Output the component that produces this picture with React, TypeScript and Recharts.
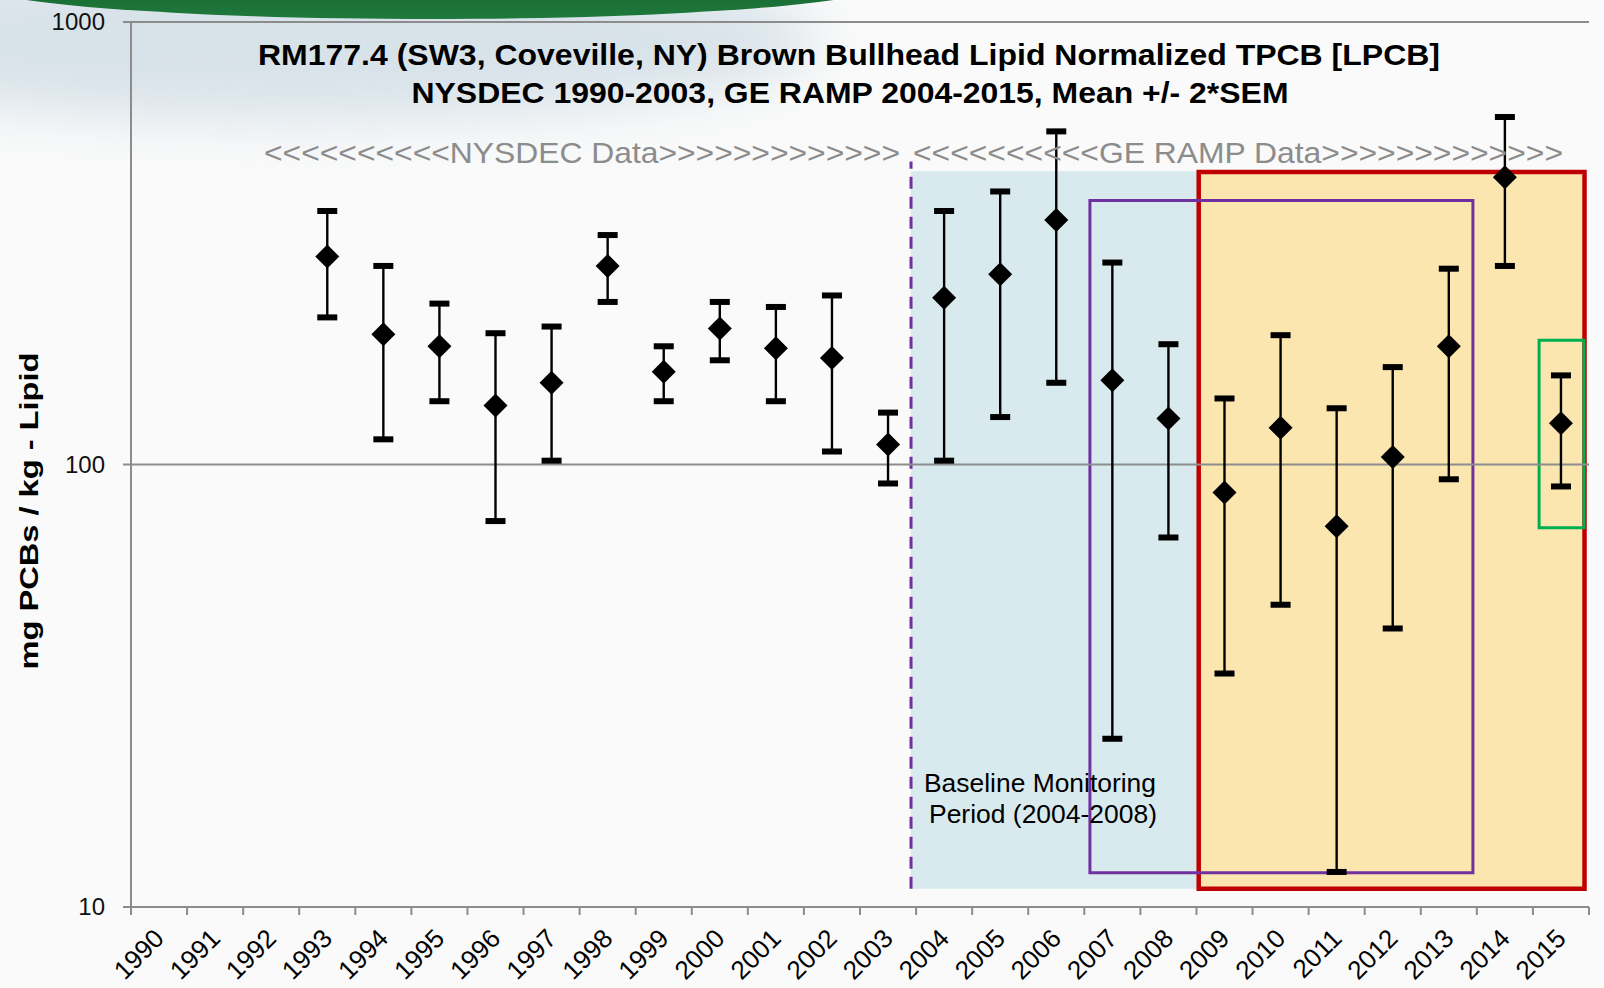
import React from 'react';
import {
  ScatterChart,
  Scatter,
  XAxis,
  YAxis,
  ErrorBar,
  ReferenceArea,
  ReferenceLine,
} from 'recharts';

// sampling years (x categories)
const YEARS = [
  '1990', '1991', '1992', '1993', '1994', '1995', '1996', '1997', '1998', '1999', '2000', '2001', '2002',
  '2003', '2004', '2005', '2006', '2007', '2008', '2009', '2010', '2011', '2012', '2013', '2014', '2015',
];

// mean LPCB (mg/kg lipid), and mean -/+ 2*SEM
const MEAN = [
  null, null, null, 295, 197, 185, 136, 153, 281, 162, 203, 183, 174,
  111, 238, 269, 357, 155, 127, 86.4, 121, 72.5, 104, 185, 446, 124,
];
const LOWER = [
  null, null, null, 215, 114, 139, 74.5, 102, 233, 139, 172, 139, 107,
  90.6, 102, 128, 153, 24, 68.4, 33.7, 48.2, 12, 42.6, 92.6, 281, 89.2,
];
const UPPER = [
  null, null, null, 374, 281, 231, 198, 205, 330, 185, 233, 227, 241,
  131, 374, 414, 566, 286, 187, 141, 196, 134, 166, 277, 610, 159,
];

const Y_TICKS = [10, 100, 1000];

// annotation boxes, in axis units (x = category index, y = mg/kg)
const BASELINE_BAND = { x1: 13.91, x2: 19.04, y1: 11, y2: 460 };
const RECENT_BOX = { x1: 19.04, x2: 25.92, y1: 11, y2: 458 };
const PURPLE_BOX = { x1: 17.1, x2: 23.93, y1: 11.95, y2: 395 };
const GREEN_BOX = { x1: 25.11, x2: 25.91, y1: 72, y2: 191 };
const DIVIDER = { x: 13.91, y1: 11, y2: 484 };

const W = 1604;
const H = 988;
const FONT = '"Liberation Sans", Arial, sans-serif';
const AXIS_GRAY = '#8c8c8c';

const gridTicks = YEARS.map((_, i) => i).concat(YEARS.length);
const labelTicks = YEARS.map((_, i) => i + 0.5);

const points = YEARS.map((_, i) =>
  MEAN[i] == null
    ? null
    : { x: i + 0.5, y: MEAN[i] as number, err: [(MEAN[i] as number) - (LOWER[i] as number), (UPPER[i] as number) - (MEAN[i] as number)] }
).filter(Boolean) as { x: number; y: number; err: number[] }[];

const lowCaps = YEARS.map((_, i) => (LOWER[i] == null ? null : { x: i + 0.5, y: LOWER[i] as number })).filter(Boolean);
const highCaps = YEARS.map((_, i) => (UPPER[i] == null ? null : { x: i + 0.5, y: UPPER[i] as number })).filter(Boolean);

const Diamond = (props: any) => {
  const { cx, cy } = props;
  if (cx == null || cy == null) return null;
  const r = 12;
  return <polygon points={`${cx},${cy - r} ${cx + r},${cy} ${cx},${cy + r} ${cx - r},${cy}`} fill="#000" />;
};

const Cap = (props: any) => {
  const { cx, cy } = props;
  if (cx == null || cy == null) return null;
  return <rect x={cx - 10} y={cy - 3} width={20} height={6} fill="#000" />;
};

const YearTick = (props: any) => {
  const { x, y, payload } = props;
  const label = YEARS[Math.floor(payload.value)];
  const ax = x + 6.5;
  const ay = y + 32;
  return (
    <text x={ax} y={ay} transform={`rotate(-45 ${ax} ${ay})`} textAnchor="end" fontSize={26} fontFamily={FONT} fill="#000">
      {label}
    </text>
  );
};

const ValueTick = (props: any) => {
  const { x, y, payload } = props;
  return (
    <text x={x} y={y} dy={8} textAnchor="end" fontSize={24} fontFamily={FONT} fill="#111">
      {payload.value}
    </text>
  );
};

export default function App() {
  return (
    <div style={{ position: 'absolute', left: 0, top: 0, width: W, height: H, background: '#fafafa', overflow: 'hidden' }}>
      <svg width={W} height={H} style={{ position: 'absolute', left: 0, top: 0 }}>
        <defs>
          <filter id="haze" x="-50%" y="-50%" width="200%" height="200%">
            <feGaussianBlur stdDeviation="28" />
          </filter>
          <linearGradient id="band" x1="0" y1="0" x2="0" y2="1">
            <stop offset="0" stopColor="#0e4f22" />
            <stop offset="1" stopColor="#1f7a3c" />
          </linearGradient>
        </defs>
        <ellipse cx={300} cy={40} rx={520} ry={80} fill="#c9d8e2" opacity={0.7} filter="url(#haze)" />
        <ellipse cx={430} cy={-18} rx={462} ry={37} fill="url(#band)" />
      </svg>

      <div style={{ position: 'absolute', left: 0, top: 0 }}>
        <ScatterChart width={W} height={H} margin={{ top: 22, right: 15, bottom: 0, left: 0 }}>
          <XAxis
            xAxisId="grid"
            type="number"
            dataKey="x"
            domain={[0, 26]}
            allowDataOverflow
            ticks={gridTicks}
            interval={0}
            height={1}
            tick={() => <g />}
            tickSize={8}
            tickLine={{ stroke: AXIS_GRAY, strokeWidth: 2 }}
            axisLine={{ stroke: AXIS_GRAY, strokeWidth: 2 }}
          />
          <XAxis
            xAxisId="lab"
            type="number"
            dataKey="x"
            domain={[0, 26]}
            allowDataOverflow
            ticks={labelTicks}
            interval={0}
            height={80}
            tickSize={0}
            tickMargin={0}
            tickLine={false}
            axisLine={false}
            tick={<YearTick />}
          />
          <YAxis
            type="number"
            dataKey="y"
            scale="log"
            domain={[10, 1000]}
            allowDataOverflow
            ticks={Y_TICKS}
            interval={0}
            width={131}
            tickSize={8}
            tickMargin={18}
            tick={<ValueTick />}
            tickLine={{ stroke: AXIS_GRAY, strokeWidth: 2 }}
            axisLine={{ stroke: AXIS_GRAY, strokeWidth: 2 }}
          />

          <ReferenceArea xAxisId="grid" {...BASELINE_BAND} fill="#d8eaee" fillOpacity={1} stroke="none" />
          <ReferenceArea xAxisId="grid" {...RECENT_BOX} fill="#fbe6b0" fillOpacity={1} stroke="#c00000" strokeWidth={4.5} />
          <ReferenceArea xAxisId="grid" {...PURPLE_BOX} fill="none" fillOpacity={0} stroke="#7030a0" strokeWidth={3} />
          <ReferenceArea xAxisId="grid" {...GREEN_BOX} fill="none" fillOpacity={0} stroke="#00b050" strokeWidth={3} />
          <ReferenceLine
            xAxisId="grid"
            segment={[{ x: DIVIDER.x, y: DIVIDER.y1 }, { x: DIVIDER.x, y: DIVIDER.y2 }]}
            stroke="#7030a0"
            strokeWidth={3}
            strokeDasharray="12 8"
          />
          <ReferenceLine xAxisId="grid" y={100} stroke={AXIS_GRAY} strokeWidth={2} />
          <ReferenceLine xAxisId="grid" y={1000} stroke={AXIS_GRAY} strokeWidth={2} />

          <Scatter xAxisId="lab" data={points} shape={<Diamond />} isAnimationActive={false}>
            <ErrorBar dataKey="err" direction="y" width={0} stroke="#000" strokeWidth={2.4} isAnimationActive={false} />
          </Scatter>
          <Scatter xAxisId="grid" data={lowCaps} shape={<Cap />} isAnimationActive={false} />
          <Scatter xAxisId="grid" data={highCaps} shape={<Cap />} isAnimationActive={false} />
        </ScatterChart>
      </div>

      <svg width={W} height={H} style={{ position: 'absolute', left: 0, top: 0, pointerEvents: 'none' }} fontFamily={FONT}>
        <text x={849} y={65} textAnchor="middle" fontSize={30} fontWeight="bold" fill="#000" textLength={1182} lengthAdjust="spacingAndGlyphs">
          RM177.4 (SW3, Coveville, NY) Brown Bullhead Lipid Normalized TPCB [LPCB]
        </text>
        <text x={850} y={103} textAnchor="middle" fontSize={30} fontWeight="bold" fill="#000" textLength={877} lengthAdjust="spacingAndGlyphs">
          NYSDEC 1990-2003, GE RAMP 2004-2015, Mean +/- 2*SEM
        </text>
        <text x={582} y={163} textAnchor="middle" fontSize={30} fill="#8c8c8c" textLength={636} lengthAdjust="spacingAndGlyphs">
          {'<<<<<<<<<<NYSDEC Data>>>>>>>>>>>>>'}
        </text>
        <text x={1238} y={163} textAnchor="middle" fontSize={30} fill="#8c8c8c" textLength={650} lengthAdjust="spacingAndGlyphs">
          {'<<<<<<<<<<GE RAMP Data>>>>>>>>>>>>>'}
        </text>
        <text x={1040} y={792} textAnchor="middle" fontSize={25} fill="#000" textLength={232} lengthAdjust="spacingAndGlyphs">
          Baseline Monitoring
        </text>
        <text x={1043} y={823} textAnchor="middle" fontSize={25} fill="#000" textLength={228} lengthAdjust="spacingAndGlyphs">
          Period (2004-2008)
        </text>
        <text
          x={38}
          y={511}
          transform="rotate(-90 38 511)"
          textAnchor="middle"
          fontSize={25}
          fontWeight="bold"
          fill="#000"
          textLength={317}
          lengthAdjust="spacingAndGlyphs"
        >
          mg PCBs / kg - Lipid
        </text>
      </svg>
    </div>
  );
}
